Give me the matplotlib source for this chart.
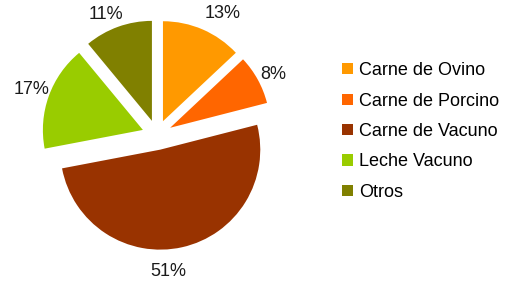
import matplotlib
matplotlib.use("Agg")
import matplotlib.pyplot as plt
from matplotlib.patches import Patch

plt.rcParams['font.family'] = ['Liberation Sans', 'DejaVu Sans']

categorias = ['Carne de Ovino', 'Carne de Porcino', 'Carne de Vacuno', 'Leche Vacuno', 'Otros']
valores = [13, 8, 51, 17, 11]
colores = ['#FF9900', '#FF6600', '#993300', '#99CC00', '#808000']
# small label nudges (data units) to follow the original layout
ajustes = [(0.12, -0.02), (-0.02, -0.05), (-0.18, -0.05), (0.02, 0.0), (-0.05, -0.07)]

fig = plt.figure(figsize=(5.12, 2.83), dpi=100)
ax = fig.add_axes([0, 0, 314 / 512, 1])

wedges, texts = ax.pie(valores, colors=colores, startangle=90, counterclock=False,
                       explode=[0.15] * len(valores),
                       labels=[f'{v}%' for v in valores], labeldistance=1.2,
                       textprops={'fontsize': 13, 'color': '#1a1a1a'})
for t, (dx, dy) in zip(texts, ajustes):
    x, y = t.get_position()
    t.set_position((x + dx, y + dy))
    t.set_horizontalalignment('center')
    t.set_verticalalignment('center')

ax.set_aspect('auto')
ax.set_xlim(-1.57, 1.57)
ax.set_ylim(-1.48, 1.35)
ax.axis('off')

handles = [Patch(facecolor=c, edgecolor='none') for c in colores]
fig.legend(handles, categorias, loc='upper left', bbox_to_anchor=(335 / 512, 1 - 55 / 283),
           frameon=False, fontsize=13, handlelength=0.58, handleheight=0.58,
           handletextpad=0.35, labelspacing=0.74, borderaxespad=0)

fig.savefig('out.png', dpi=100)
